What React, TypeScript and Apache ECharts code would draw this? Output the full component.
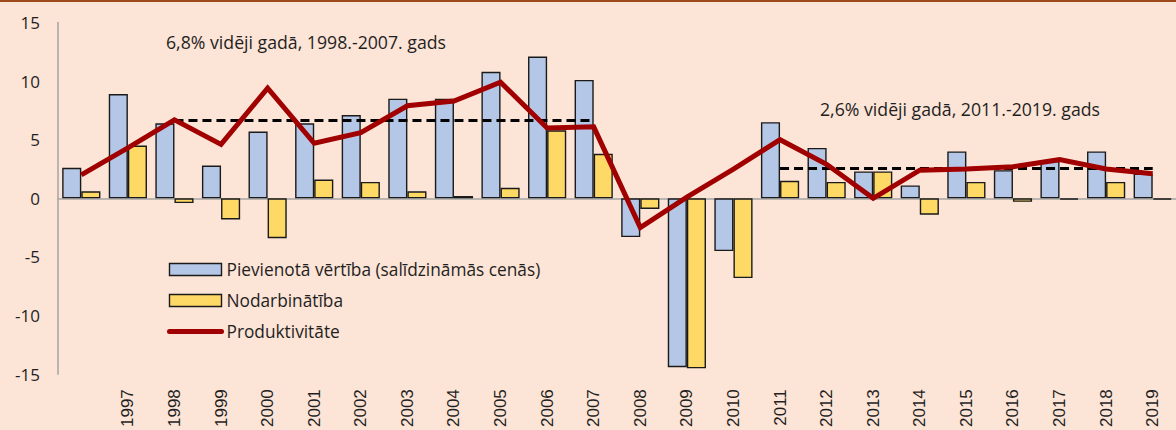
import React, { useEffect, useRef } from "react";
import * as echarts from "echarts";

const years = [
  "1996", "1997", "1998", "1999", "2000", "2001", "2002", "2003", "2004", "2005", "2006", "2007",
  "2008", "2009", "2010", "2011", "2012", "2013", "2014", "2015", "2016", "2017", "2018", "2019",
];
const valueAdded = [2.6, 8.9, 6.4, 2.8, 5.7, 6.4, 7.1, 8.5, 8.5, 10.8, 12.1, 10.1, -3.3, -14.4, -4.5, 6.5, 4.3, 2.3, 1.1, 4.0, 2.4, 3.2, 4.0, 2.1];
const employment = [0.6, 4.5, -0.4, -1.8, -3.4, 1.6, 1.4, 0.6, 0.2, 0.9, 5.8, 3.8, -0.9, -14.5, -6.8, 1.5, 1.4, 2.3, -1.4, 1.4, -0.3, -0.1, 1.4, -0.1];
const productivity = [2.0, 4.3, 6.7, 4.6, 9.4, 4.7, 5.6, 7.9, 8.3, 9.9, 6.0, 6.1, -2.5, 0.1, 2.5, 5.0, 2.9, 0.0, 2.4, 2.5, 2.7, 3.3, 2.5, 2.1];

const avgPeriod1 = { from: "1998", to: "2007", value: 6.7, label: "6,8% vidēji gadā, 1998.-2007. gads" };
const avgPeriod2 = { from: "2011", to: "2019", value: 2.6, label: "2,6% vidēji gadā, 2011.-2019. gads" };

const seriesNames = ["Pievienotā vērtība (salīdzināmās cenās)", "Nodarbinātība", "Produktivitāte"];
const yTicks = { min: -15, max: 15, interval: 5 };

const FONT = "'Open Sans', 'Noto Sans', sans-serif";
const TEXT = "#1f1f1f";
const RED = "#A00000";

export default function App() {
  const ref = useRef<HTMLDivElement>(null);
  useEffect(() => {
    document.body.style.margin = "0";
    if (!ref.current) return;
    const chart = echarts.init(ref.current, null, { renderer: "svg" });
    const option: any = {
      animation: false,
      backgroundColor: "#FCE4D6",
      grid: { left: 58, top: 22.5, height: 353.5, width: 1126, containLabel: false },
      legend: {
        orient: "vertical",
        left: 167,
        top: 261,
        padding: 0,
        itemWidth: 52,
        itemHeight: 12,
        itemGap: 14,
        itemStyle: { borderWidth: 1.4 },
        textStyle: { fontFamily: FONT, fontSize: 17.3, color: TEXT, lineHeight: 17 },
        data: [
          { name: seriesNames[0], icon: "rect" },
          { name: seriesNames[1], icon: "rect" },
          {
            name: seriesNames[2],
            itemStyle: { opacity: 0 },
            lineStyle: { width: 5, cap: "round", color: RED },
          },
        ],
      },
      xAxis: [
        {
          type: "category",
          data: years,
          position: "bottom",
          axisLine: { show: false, onZero: false },
          axisTick: { show: false },
          axisLabel: {
            rotate: 90,
            margin: 15,
            interval: (i: number) => i > 0,
            fontFamily: "'Liberation Sans', Arial, sans-serif",
            fontSize: 17,
            color: TEXT,
          },
        },
        {
          type: "category",
          data: years,
          position: "bottom",
          axisLine: { show: true, onZero: true, lineStyle: { color: "#A6A6A6", width: 1.5 } },
          axisTick: { show: false },
          axisLabel: { show: false },
        },
      ],
      yAxis: {
        type: "value",
        min: yTicks.min,
        max: yTicks.max,
        interval: yTicks.interval,
        axisLine: { show: true, lineStyle: { color: "#A6A6A6", width: 1.5 } },
        axisTick: { show: false },
        splitLine: { show: false },
        axisLabel: { margin: 18, fontFamily: FONT, fontSize: 17, color: TEXT },
      },
      series: [
        {
          name: seriesNames[0],
          type: "bar",
          data: valueAdded,
          barGap: "0%",
          barCategoryGap: "18%",
          itemStyle: { color: "#B4C7E7", borderColor: "#1a1a1a", borderWidth: 1.4 },
        },
        {
          name: seriesNames[1],
          type: "bar",
          data: employment,
          barGap: "0%",
          barCategoryGap: "18%",
          itemStyle: { color: "#FFD966", borderColor: "#1a1a1a", borderWidth: 1.4 },
        },
        {
          name: seriesNames[2],
          type: "line",
          data: productivity,
          symbol: "none",
          z: 5,
          lineStyle: { color: RED, width: 5, join: "miter" },
          itemStyle: { color: RED },
          markLine: {
            silent: true,
            symbol: ["none", "none"],
            label: { show: false },
            lineStyle: { color: "#000", width: 3, type: [9, 5] },
            data: [
              [{ coord: [avgPeriod1.from, avgPeriod1.value] }, { coord: [avgPeriod1.to, avgPeriod1.value] }],
              [{ coord: [avgPeriod2.from, avgPeriod2.value] }, { coord: [avgPeriod2.to, avgPeriod2.value] }],
            ],
          },
        },
      ],
      graphic: [
        { type: "rect", left: 0, top: 0, shape: { width: 1176, height: 2 }, style: { fill: "#9E4A1C" } },
        {
          type: "text",
          left: 166,
          top: 33,
          style: { text: avgPeriod1.label, fontFamily: FONT, fontSize: 17.7, fill: TEXT },
        },
        {
          type: "text",
          left: 820,
          top: 100,
          style: { text: avgPeriod2.label, fontFamily: FONT, fontSize: 17.7, fill: TEXT },
        },
      ],
    };
    chart.setOption(option);
    return () => chart.dispose();
  }, []);
  return <div ref={ref} style={{ width: 1176, height: 430, position: "absolute", left: 0, top: 0 }} />;
}
